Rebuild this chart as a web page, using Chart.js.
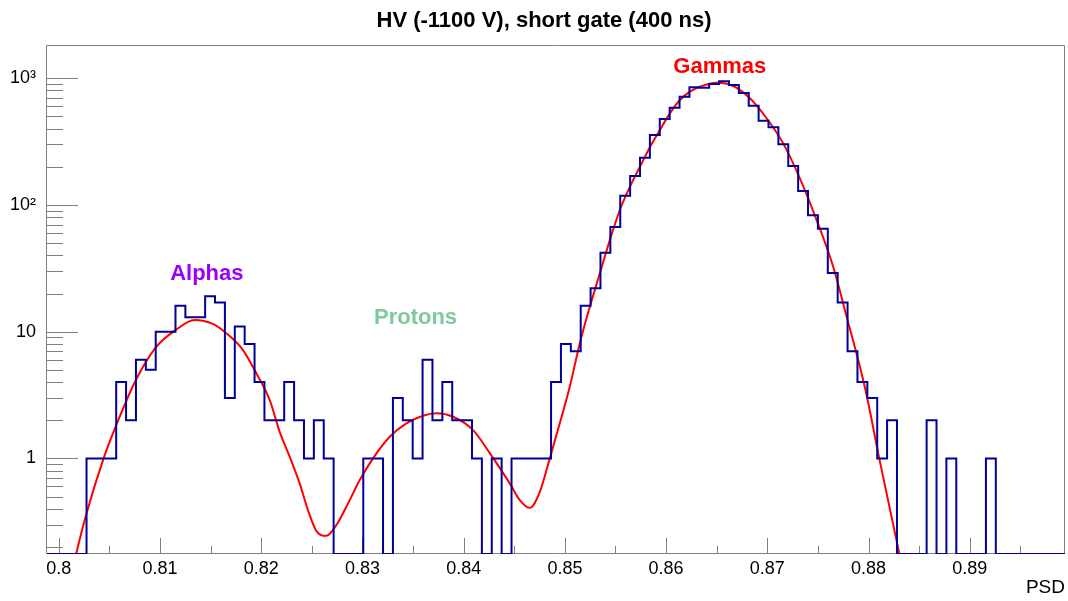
<!DOCTYPE html>
<html><head><meta charset="utf-8">
<script src="https://cdn.jsdelivr.net/npm/chart.js@4.4.1/dist/chart.umd.min.js"></script>
<style>html,body{margin:0;padding:0;background:#fff;}canvas{display:block;}</style>
</head><body>
<canvas id="c" width="1068" height="601"></canvas>
<script>
// Histogram binning: bin k spans [k/1024, (k+1)/1024]
const BIN_DENOM = 1024;
const FIRST_BIN = 818;
// counts per bin, bins 818 .. 920
const counts = [
  0, 0, 0, 0, 1, 1, 1, 4, 2, 6,
  5, 10, 10, 16, 13, 13, 19, 17, 3, 11,
  8, 4, 2, 2, 4, 2, 1, 2, 1, 0,
  0, 0, 1, 1, 0, 3, 2, 1, 6, 2,
  4, 2, 2, 1, 0, 1, 0, 1, 1, 1,
  1, 4, 8, 7, 16, 22, 42, 67, 118, 169,
  236, 356, 476, 585, 715, 850, 840, 900, 945, 884,
  764, 607, 462, 410, 301, 203, 129, 83, 65, 29,
  17, 7, 4, 3, 1, 2, 0, 0, 0, 2,
  0, 1, 0, 0, 0, 1, 0, 0, 0, 0,
  0, 0, 0
];
// fit curve samples
const fitX = [
  0.8013, 0.80172, 0.80264, 0.80442, 0.80567, 0.80761, 0.80956, 0.81154, 0.81341, 0.81522,
  0.81655, 0.81819, 0.81951, 0.82083, 0.82182, 0.82281, 0.82379, 0.82461, 0.82545, 0.82643,
  0.82742, 0.82841, 0.82973, 0.83104, 0.83269, 0.83434, 0.83598, 0.83731, 0.83895, 0.84093,
  0.84258, 0.84455, 0.84554, 0.84653, 0.84752, 0.84851, 0.84950, 0.85048, 0.85147, 0.85246,
  0.85345, 0.85444, 0.85543, 0.85642, 0.85741, 0.85840, 0.85939, 0.86037, 0.86137, 0.86235,
  0.86334, 0.86499, 0.86663, 0.86828, 0.86993, 0.87157, 0.87322, 0.87487, 0.87651, 0.87784,
  0.87915, 0.87981, 0.88106, 0.88304, 0.88341
];
const fitY = [
  0.128, 0.178, 0.346, 1.00, 1.83, 4.15, 7.49, 10.3, 12.35, 11.5,
  9.7, 7.16, 4.69, 2.89, 1.62, 1.03, 0.635, 0.391, 0.267, 0.245,
  0.298, 0.415, 0.674, 1.00, 1.48, 1.89, 2.17, 2.27, 2.13, 1.67,
  1.10, 0.635, 0.469, 0.407, 0.545, 1.00, 1.90, 3.67, 8.08, 15.7,
  28.8, 52.8, 91.2, 139, 200, 285, 390, 528, 673, 783,
  857, 921, 868, 694, 483, 306, 162, 76, 32.5, 13.1,
  5.28, 3.16, 1.00, 0.178, 0.127
];
const xTickValues = [0.80, 0.81, 0.82, 0.83, 0.84, 0.85, 0.86, 0.87, 0.88, 0.89];
const xTickLabels = ['0.8', '0.81', '0.82', '0.83', '0.84', '0.85', '0.86', '0.87', '0.88', '0.89'];
const xMinorValues = [0.805, 0.815, 0.825, 0.835, 0.845, 0.855, 0.865, 0.875, 0.885, 0.895];
const yTickValues = [1, 10, 100, 1000];
const yTickLabels = ['1', '10', '10\u00B2', '10\u00B3'];
const peakNames = ['Alphas', 'Protons', 'Gammas'];
const chartTitle = 'HV (-1100 V), short gate (400 ns)';

const X_MIN = FIRST_BIN / BIN_DENOM;
const X_MAX = (FIRST_BIN + counts.length) / BIN_DENOM;
const Y_MIN = 0.176, Y_MAX = 1795;
const FONT = '"Liberation Sans", Arial, Helvetica, sans-serif';

const histData = counts.map((c, i) => ({ x: (FIRST_BIN + i) / BIN_DENOM, y: c > 0 ? c : Y_MIN }));
histData.push({ x: X_MAX, y: histData[histData.length - 1].y });
const fitData = fitX.map((x, i) => ({ x: x, y: fitY[i] }));

const labelPlacement = [
  { x: 0.81462, y: 25.5, color: '#9900ff' },
  { x: 0.83524, y: 11.5, color: '#80c9a0' },
  { x: 0.86531, y: 1105, color: '#ff0000' }
];

const frameTicks = {
  id: 'frameTicks',
  beforeDatasetsDraw(chart) {
    const { ctx, chartArea: a, scales: { x, y } } = chart;
    ctx.save();
    ctx.strokeStyle = '#808080';
    ctx.lineWidth = 1;
    ctx.beginPath();
    ctx.rect(a.left - 0.5, a.top - 0.5, a.right - a.left, a.bottom - a.top);
    ctx.stroke();
    ctx.beginPath();
    for (let e = -1; e <= 3; e++) {
      for (let d = 1; d <= 9; d++) {
        const v = d * Math.pow(10, e);
        if (v < Y_MIN || v > Y_MAX) continue;
        const py = Math.round(y.getPixelForValue(v)) + 0.5;
        const len = d === 1 ? 31 : 16;
        ctx.moveTo(a.left, py); ctx.lineTo(a.left + len, py);
      }
    }
    xTickValues.forEach(v => {
      const px = Math.round(x.getPixelForValue(v)) + 0.5;
      ctx.moveTo(px, a.bottom); ctx.lineTo(px, a.bottom - 16);
    });
    xMinorValues.forEach(v => {
      const px = Math.round(x.getPixelForValue(v)) + 0.5;
      ctx.moveTo(px, a.bottom); ctx.lineTo(px, a.bottom - 8);
    });
    ctx.stroke();
    // title, centred over the pad as ROOT does
    ctx.fillStyle = '#000';
    ctx.font = 'bold 22px ' + FONT;
    ctx.textAlign = 'center';
    ctx.textBaseline = 'middle';
    ctx.fillText(chartTitle, (a.left + a.right) / 2 - 12, 20.5);
    ctx.restore();
  },
  afterDatasetsDraw(chart) {
    const { ctx, scales: { x, y } } = chart;
    ctx.save();
    ctx.font = 'bold 22px ' + FONT;
    ctx.textAlign = 'center';
    ctx.textBaseline = 'alphabetic';
    peakNames.forEach((t, i) => {
      const p = labelPlacement[i];
      ctx.fillStyle = p.color;
      ctx.fillText(t, x.getPixelForValue(p.x), y.getPixelForValue(p.y));
    });
    ctx.restore();
  }
};

new Chart(document.getElementById('c'), {
  type: 'line',
  data: {
    datasets: [
      { data: histData, borderColor: '#000099', borderWidth: 2, pointRadius: 0, stepped: 'before', fill: false },
      { data: fitData, borderColor: '#ff0000', borderWidth: 2, pointRadius: 0, cubicInterpolationMode: 'monotone', fill: false }
    ]
  },
  options: {
    responsive: false,
    animation: false,
    events: [],
    layout: { padding: { left: 0, right: 3, top: 46, bottom: 0 } },
    plugins: {
      legend: { display: false },
      tooltip: { enabled: false },
      title: { display: false }
    },
    scales: {
      x: {
        type: 'linear', min: X_MIN, max: X_MAX,
        afterBuildTicks: s => { s.ticks = xTickValues.map(v => ({ value: v })); },
        afterFit: s => { s.height = 47; },
        ticks: {
          callback: (v, i) => xTickLabels[i],
          font: { family: FONT, size: 18 }, color: '#000', padding: 4,
          maxRotation: 0, autoSkip: false
        },
        grid: { display: false, drawTicks: false },
        border: { display: false },
        title: {
          display: true, text: 'PSD', align: 'end', color: '#000',
          font: { family: FONT, size: 19 }, padding: { top: 0, bottom: 2 }
        }
      },
      y: {
        type: 'logarithmic', min: Y_MIN, max: Y_MAX,
        afterBuildTicks: s => { s.ticks = yTickValues.map(v => ({ value: v, major: true })); },
        afterFit: s => { s.width = 47; },
        ticks: {
          callback: (v, i) => yTickLabels[i],
          font: { family: FONT, size: 18 }, color: '#000', padding: 11, autoSkip: false
        },
        grid: { display: false, drawTicks: false },
        border: { display: false }
      }
    }
  },
  plugins: [frameTicks]
});
</script>
</body></html>
